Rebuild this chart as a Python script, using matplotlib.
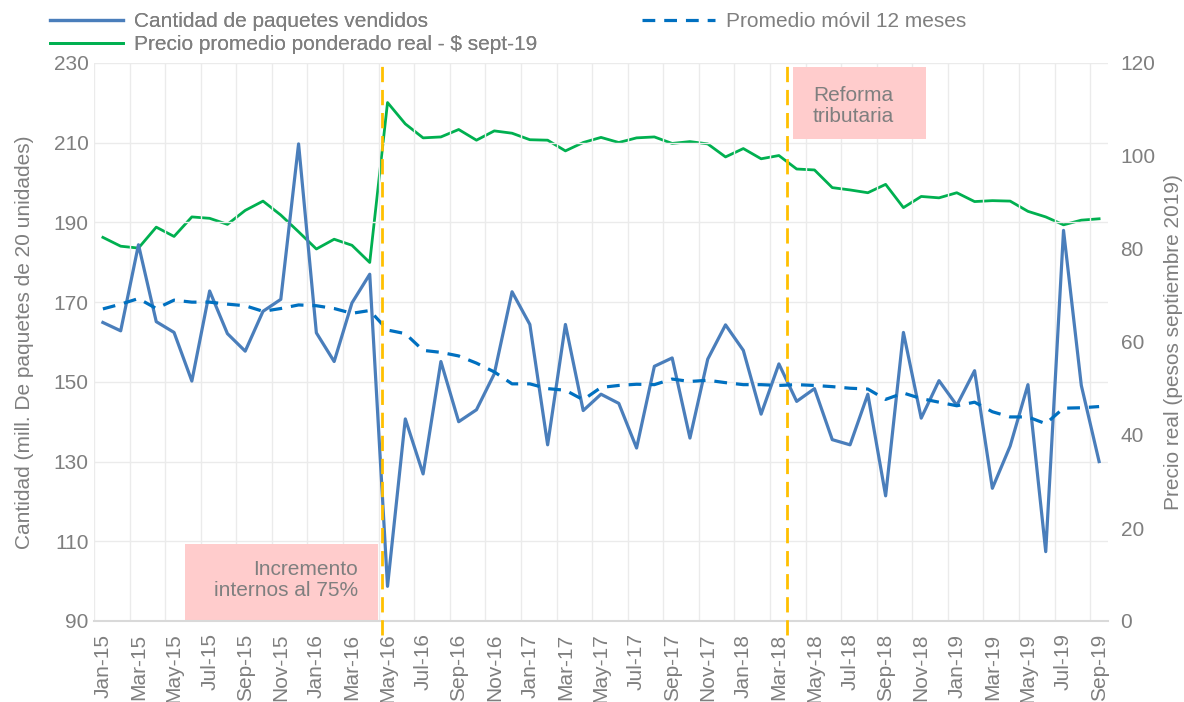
import matplotlib
matplotlib.use("Agg")
import matplotlib.pyplot as plt
import numpy as np

plt.rcParams['font.family'] = ['Liberation Sans', 'DejaVu Sans']

months = ["Jan","Feb","Mar","Apr","May","Jun","Jul","Aug","Sep","Oct","Nov","Dec"]
categories = [f"{m}-{y}" for y in range(15, 20) for m in months][:57]

cantidad = [164.9, 162.8, 184.4, 165.1, 162.4, 150.2, 172.8, 162.1, 157.7, 167.7,
            170.7, 209.7, 162.3, 155.1, 169.8, 177.0, 98.7, 140.7, 126.9, 155.1,
            140.0, 143.0, 152.0, 172.6, 164.4, 134.2, 164.4, 142.8, 146.9, 144.6,
            133.4, 153.9, 156.0, 135.9, 155.7, 164.3, 157.9, 141.9, 154.5, 145.1,
            148.3, 135.5, 134.2, 146.9, 121.4, 162.4, 140.9, 150.3, 144.1, 152.8,
            123.3, 133.9, 149.3, 107.4, 188.0, 149.1, 130.0]

promedio = [168.3, 169.5, 170.9, 168.4, 170.5, 170.0, 170.0, 169.5, 169.1, 167.7,
            168.4, 169.3, 169.1, 168.4, 167.2, 167.9, 163.0, 162.1, 157.9, 157.4,
            156.5, 154.7, 152.5, 149.5, 149.5, 148.3, 147.9, 145.5, 148.6, 149.1,
            149.4, 149.3, 150.7, 150.1, 150.4, 149.8, 149.3, 149.3, 149.1, 149.3,
            149.1, 148.8, 148.4, 148.2, 145.6, 147.2, 145.8, 144.9, 144.0, 144.9,
            142.5, 141.2, 141.2, 139.5, 143.4, 143.5, 143.8]

precio = [82.5, 80.6, 80.2, 84.7, 82.7, 86.9, 86.6, 85.3, 88.3, 90.3,
          87.3, 83.7, 80.0, 82.1, 80.8, 77.1, 111.5, 106.9, 103.9, 104.1,
          105.7, 103.4, 105.4, 104.9, 103.5, 103.4, 101.1, 102.9, 104.0, 102.9,
          103.9, 104.1, 102.7, 103.1, 102.6, 99.8, 101.6, 99.4, 100.1, 97.2,
          97.0, 93.2, 92.7, 92.1, 93.9, 88.9, 91.3, 91.0, 92.1, 90.2,
          90.4, 90.3, 88.1, 86.9, 85.2, 86.2, 86.5]

left_ticks = [90, 110, 130, 150, 170, 190, 210, 230]
right_ticks = [0, 20, 40, 60, 80, 100, 120]

GRAY = "#7F7F7F"
GRID = "#EBEBEB"
FS = 15

fig = plt.figure(figsize=(11.84, 7.02), dpi=100)
ax = fig.add_axes([94/1184, 1-621/702, (1108-94)/1184, (621-63)/702])
ax2 = ax.twinx()

x = np.arange(len(categories))

# grid
for yv in left_ticks:
    ax.axhline(yv, color=GRID, lw=1, zorder=0)
for xv in np.arange(-0.5, len(categories), 2):
    ax.axvline(xv, color=GRID, lw=1, zorder=0)

l1, = ax.plot(x, cantidad, color="#4A7EBB", lw=2.3, zorder=3, label="Cantidad de paquetes vendidos")
l3, = ax.plot(x, promedio, color="#0070C0", lw=2.3, ls=(0, (4, 2.8)), zorder=3, label="Promedio móvil 12 meses")
l2, = ax2.plot(x, precio, color="#00B050", lw=2.0, zorder=3, label="Precio promedio ponderado real - $ sept-19")

ax.set_xlim(-0.5, len(categories) - 0.5)
ax.set_ylim(90, 230)
ax2.set_ylim(0, 120)
ax.set_yticks(left_ticks)
ax2.set_yticks(right_ticks)
ax.set_xticks(x[::2])
ax.set_xticklabels(categories[::2], rotation=90)

for a in (ax, ax2):
    for s in a.spines.values():
        s.set_visible(False)
    a.tick_params(length=0, colors=GRAY, labelsize=FS)
ax.spines['bottom'].set_visible(True)
ax.spines['bottom'].set_color("#D9D9D9")
ax.spines['bottom'].set_linewidth(1.5)
ax.tick_params(axis='x', pad=9)
ax.tick_params(axis='y', pad=4)
ax2.tick_params(axis='y', pad=9)

ax.set_ylabel("Cantidad (mill. De paquetes de 20 unidades)", color=GRAY, fontsize=FS, labelpad=14)
ax2.set_ylabel("Precio real (pesos septiembre 2019)", color=GRAY, fontsize=FS, labelpad=6)

ax.set_zorder(ax2.get_zorder() + 1)
ax.patch.set_visible(False)

# vertical event lines
for xv in (15.7, 38.45):
    ax.axvline(xv, color="#FFC000", lw=2, ls=(0, (5.5, 2.8)), zorder=4, clip_on=False,
               ymin=-0.025, ymax=1.0)

# annotation boxes
ax.add_patch(plt.Rectangle((4.62, 90), 15.46 - 4.62, 109.3 - 90, facecolor="#FFCCCC",
                           edgecolor="none", zorder=1))
ax.text(14.32, 100.3, "Incremento\ninternos al 75%", ha="right", va="center",
        color=GRAY, fontsize=FS, zorder=5, linespacing=1.15)
ax.add_patch(plt.Rectangle((38.79, 210.9), 46.27 - 38.79, 229.0 - 210.9, facecolor="#FFCCCC",
                           edgecolor="none", zorder=1))
ax.text(42.17, 219.3, "Reforma\ntributaria", ha="center", va="center",
        color=GRAY, fontsize=FS, zorder=5, linespacing=1.15)

common = dict(loc="upper left", frameon=False, fontsize=FS, handlelength=3.5,
              handletextpad=0.55, labelspacing=0.2, borderpad=0, borderaxespad=0)
leg1 = fig.legend(handles=[l1, l2], bbox_to_anchor=(50/1184, 1-12/702), **common)
for t in leg1.get_texts():
    t.set_color(GRAY)
fig.add_artist(leg1)
leg2 = fig.legend(handles=[l3], bbox_to_anchor=(642/1184, 1-12/702), **common)
for t in leg2.get_texts():
    t.set_color(GRAY)

fig.savefig("out.png", dpi=100)
